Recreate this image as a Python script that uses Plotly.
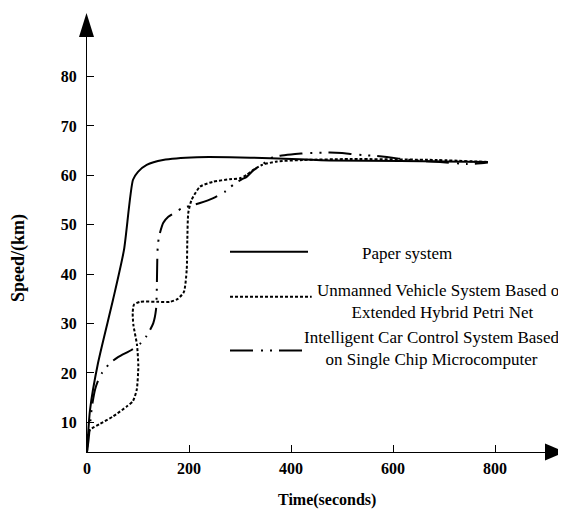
import plotly.graph_objects as go

# ---------------- data ----------------
paper_t = [0, 5.9, 21.6, 51, 72.5, 90.2, 100, 117, 149, 216, 280, 359, 476, 614, 786]
paper_v = [4.0, 12.5, 22.0, 34.8, 44.9, 59.1, 60.7, 62.1, 63.1, 63.66, 63.66, 63.46, 63.0, 62.9, 62.7]

petri_t = [0, 2, 5.9, 25.5, 51, 77.8, 90, 97.5, 100.6, 98, 91, 89.6, 92, 104, 136.7, 162.7,
           178, 190, 195.5, 196.7, 198.6, 205, 221.6, 247, 280, 300, 313, 326, 343, 372.5,
           423.5, 516, 686, 786]
petri_v = [4.0, 7.5, 8.5, 9.7, 11.2, 13.2, 14.3, 16.6, 21.3, 25.7, 29.7, 32.1, 33.8, 34.4, 34.4, 34.4,
           35.0, 36.4, 40.9, 46.9, 52.4, 55.0, 57.7, 58.7, 59.2, 59.4, 60.1, 61.1, 62.1, 62.8,
           63.1, 63.3, 63.1, 62.7]

chip_t = [0, 3, 5.9, 9.8, 15.7, 21.6, 29.4, 45, 60.8, 88, 104, 117, 130, 135.3, 136.7, 137.8,
          138.6, 141.2, 149.6, 159.4, 175.9, 185.7, 221.6, 247.6, 270.6, 286.9, 303.3, 313, 326,
          342.5, 364.7, 382, 408, 431, 476, 500, 519.6, 541, 568.6, 588, 633, 692, 745, 765, 786]
chip_v = [4.0, 6.4, 9.5, 13.3, 16.6, 18.4, 20.0, 22.0, 23.2, 24.7, 25.9, 27.5, 30.1, 32.8, 36.2, 42.9,
          45.3, 47.6, 50.4, 51.6, 52.7, 53.3, 54.4, 55.4, 56.7, 58.1, 59.2, 59.7, 61.0,
          62.1, 63.7, 64.0, 64.3, 64.5, 64.6, 64.5, 64.3, 64.1, 63.9, 63.7, 63.1, 62.7, 62.3, 62.4, 62.6]

series_names = ["Paper system",
                "Unmanned Vehicle System Based on<br>Extended Hybrid Petri Net",
                "Intelligent Car Control System Based<br>on Single Chip Microcomputer"]

x_ticks = [0, 200, 400, 600, 800]
y_ticks = [10, 20, 30, 40, 50, 60, 70, 80]
x_title = "Time(seconds)"
y_title = "Speed/(km)"

# ---------------- layout geometry ----------------
# the page body has an 8px margin, so the figure is drawn 8px smaller and
# all reference pixel positions are shifted by that offset
OFF = 8
W, H = 566 - OFF, 514 - OFF
L, R, T, B = 87 - OFF, 545 - OFF, 37 - OFF, 452 - OFF   # plot area in figure pixels
PW, PH = R - L, B - T

def px(xp):
    """reference-image x pixel -> paper coordinate"""
    return (xp - OFF - L) / PW

def py(yp):
    """reference-image y pixel -> paper coordinate"""
    return (B - (yp - OFF)) / PH

FONT = "Liberation Serif"
DASHDOT = "23px,8px,2px,7px,2px,7px"
DOT = "3px,2px"

fig = go.Figure()
styles = [dict(color="black", width=2),
          dict(color="black", width=2, dash=DOT),
          dict(color="black", width=2, dash=DASHDOT)]
for (t, v), name, st in zip([(paper_t, paper_v), (petri_t, petri_v), (chip_t, chip_v)],
                            series_names, styles):
    fig.add_trace(go.Scatter(x=t, y=v, mode="lines", name=name.replace("<br>", " "),
                             line=dict(shape="spline", smoothing=0.6, **st),
                             showlegend=False, cliponaxis=False))

axis_common = dict(showgrid=False, zeroline=False, showline=True, linecolor="black",
                   linewidth=1, ticks="inside", ticklen=7, tickcolor="black", tickwidth=1,
                   tickfont=dict(family=FONT, size=16, color="black", weight="bold"))

fig.update_layout(
    width=W, height=H,
    margin=dict(l=L, r=W - R, t=T, b=H - B, pad=0),
    paper_bgcolor="white", plot_bgcolor="white",
    xaxis=dict(range=[0, 898], tickvals=x_ticks, ticktext=[str(v) for v in x_ticks],
               ticklabelstandoff=2, **axis_common),
    yaxis=dict(range=[4.0, 88.0], tickvals=y_ticks, ticktext=[str(v) for v in y_ticks],
               ticklabelstandoff=6, **axis_common),
)

shapes = []
# axis arrows
shapes.append(dict(type="path", xref="paper", yref="paper",
                   path=f"M {px(86.5)} {py(13)} L {px(79)} {py(37)} L {px(94)} {py(37)} Z",
                   fillcolor="black", line=dict(color="black", width=0)))
shapes.append(dict(type="path", xref="paper", yref="paper",
                   path=f"M {px(565)} {py(452)} L {px(545)} {py(443.5)} L {px(545)} {py(460.5)} Z",
                   fillcolor="black", line=dict(color="black", width=0)))
# legend samples
legend_rows = [(251.7, 308, None), (296.7, 311.7, DOT), (350.5, 302, DASHDOT)]
for (yy, xe, dash) in legend_rows:
    ln = dict(color="black", width=2)
    if dash:
        ln["dash"] = dash
    shapes.append(dict(type="line", xref="paper", yref="paper",
                       x0=px(230), x1=px(xe), y0=py(yy), y1=py(yy), line=ln))
fig.update_layout(shapes=shapes)

ann = []
text_pos = [(407, 253), (442.5, 301), (431.5, 348)]
for name, (xc, yc) in zip(series_names, text_pos):
    ann.append(dict(xref="paper", yref="paper", x=px(xc), y=py(yc), text=name,
                    showarrow=False, xanchor="center", yanchor="middle", align="center",
                    font=dict(family=FONT, size=17, color="black")))
ann.append(dict(xref="paper", yref="paper", x=px(327), y=py(500), text=x_title,
                showarrow=False, xanchor="center", yanchor="middle",
                font=dict(family=FONT, size=16, color="black", weight="bold")))
ann.append(dict(xref="paper", yref="paper", x=px(18), y=py(258), text=y_title,
                showarrow=False, xanchor="center", yanchor="middle", textangle=-90,
                font=dict(family=FONT, size=18, color="black", weight="bold")))
fig.update_layout(annotations=ann)

fig.write_html("out.html")
